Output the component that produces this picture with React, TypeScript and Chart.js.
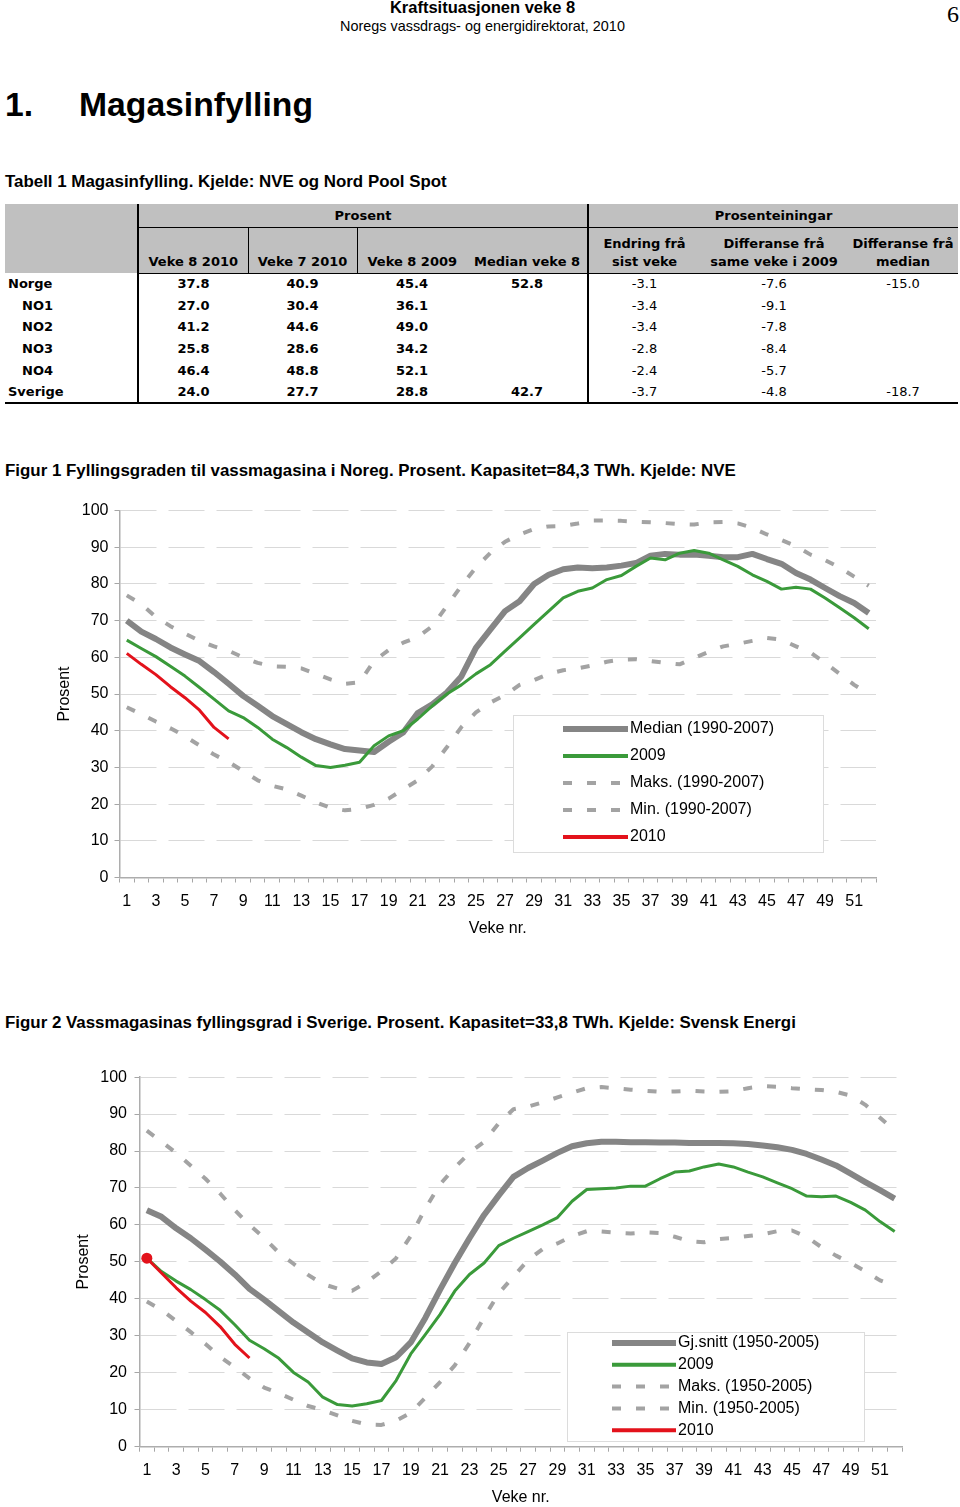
import React, { useEffect, useRef } from 'react';
import { Chart, registerables } from 'chart.js';

Chart.register(...registerables);

// ---------- categories ----------
const WEEKS = ['1','2','3','4','5','6','7','8','9','10','11','12','13','14','15','16','17','18','19','20','21','22','23','24','25','26','27','28','29','30','31','32','33','34','35','36','37','38','39','40','41','42','43','44','45','46','47','48','49','50','51','52'];

// ---------- Figur 1: Noreg ----------
const NOR_LABELS = ['Median (1990-2007)', '2009', 'Maks. (1990-2007)', 'Min. (1990-2007)', '2010'];
const NOR_MEDIAN = [70,67,65,62.7,60.8,59,56,52.8,49.5,46.8,44,41.8,39.6,37.7,36.3,35,34.6,34.2,37,39.5,44.8,47.2,50.4,54.8,62.6,67.6,72.6,75.3,80,82.5,84,84.5,84.3,84.5,85,85.7,87.7,88.2,88,88,87.7,87.3,87.3,88.2,86.8,85.5,83,81.2,78.9,76.7,74.8,72.1];
const NOR_2009 = [64.7,62.4,60.2,57.6,54.9,51.8,48.6,45.4,43.6,40.9,37.7,35.4,32.8,30.5,30,30.6,31.4,35.9,38.6,40,43.2,46.8,50,52.5,55.5,58,61.7,65.3,69,72.6,76.2,78,78.9,81.2,82.3,84.8,87.1,86.6,88.4,89.1,88.4,86.6,84.8,82.5,80.7,78.6,79.1,78.6,76.2,73.5,70.8,67.8];
const NOR_MAX = [76.9,74.5,71,68.5,66.5,64.5,63,61.8,60,58.5,57.6,57.4,57,55.5,54,52.8,53.2,59,62,64,65.5,68.5,74,79.5,84.5,88.5,91.5,93.5,95,95.7,95.8,96.5,97.3,97.3,97.2,97,96.8,96.6,96.3,96.2,96.8,96.9,96.5,95.3,93.5,92,90.3,88,86.5,84.5,82,79.5];
const NOR_MIN = [46.4,44.5,42.5,40.7,38.5,36,33.5,31.5,29,26.5,25,24,22.3,20.5,19,18.3,18.7,19.8,21.5,24,26.5,30.3,35.5,41,45,47.7,49.7,52.5,53.8,55.5,56.5,57,57.8,58.8,59.4,59.5,59,58.5,58.1,59.8,61.5,63,63.7,64.5,65.3,64.8,63,61.3,58.5,55.5,52.5,50];
const NOR_2010 = [61.1,58.1,55.3,52,49,45.6,40.9,37.8];

// ---------- Figur 2: Sverige ----------
const SWE_LABELS = ['Gj.snitt (1950-2005)', '2009', 'Maks. (1950-2005)', 'Min. (1950-2005)', '2010'];
const SWE_AVG = [64,62.2,59.1,56.4,53.3,50.1,46.6,42.7,39.8,36.7,33.6,30.9,28.2,26,23.9,22.8,22.4,24.2,28.2,34.9,42.5,49.7,56.4,62.7,68,73,75.4,77.4,79.5,81.3,82.1,82.5,82.5,82.4,82.4,82.3,82.3,82.2,82.2,82.2,82.1,81.9,81.5,81,80.3,79.2,77.7,76.1,73.9,71.6,69.4,67.1];
const SWE_2009 = [51,47.4,44.8,42.5,39.8,36.9,33,28.8,26.5,23.9,20.1,17.5,13.4,11.4,11,11.6,12.5,17.9,25.1,30.4,35.8,42.1,46.6,49.7,54.4,56.4,58.2,60,62,66.4,69.6,69.8,70,70.5,70.5,72.5,74.3,74.6,75.7,76.5,75.7,74.3,73,71.4,69.8,67.8,67.6,67.8,66.1,64,60.9,58.2];
const SWE_MAX = [85.5,82.5,79.5,76,72.5,68.5,64,60,56.5,52.5,49.5,46.5,44,42.8,42.2,44.5,47.5,51,57,64.5,71,75.5,79.5,82.5,87.5,91.3,92,93.2,94.5,95.8,97,97.3,97,96.6,96.3,96,96.1,96.3,96.1,96,96.2,97,97.6,97.4,97,96.7,96.5,96,95,92.5,89,85.5];
const SWE_MIN = [39.3,37,34,31,27.8,24.3,21.5,18.5,16,14.5,12.7,11,9.9,8.5,7,6,5.9,7,9.2,13.3,17.5,22,28,35,41.5,46,50.5,53.5,55,57,58.3,58.2,57.9,57.7,58,57.8,56.8,55.6,55.3,56.2,56.5,57,57.5,58.3,58.5,56.8,54,51.7,49.7,47.5,45,43.5];
const SWE_2010 = [51,47,43,39.4,36.3,32.5,27.7,24.0];

// ---------- Tabell 1 ----------
const TBL_REGIONS = ['Norge', 'NO1', 'NO2', 'NO3', 'NO4', 'Sverige'];
const TBL_INDENT = [false, true, true, true, true, false];
const TBL_V8_2010 = [37.8, 27.0, 41.2, 25.8, 46.4, 24.0];
const TBL_V7_2010 = [40.9, 30.4, 44.6, 28.6, 48.8, 27.7];
const TBL_V8_2009 = [45.4, 36.1, 49.0, 34.2, 52.1, 28.8];
const TBL_MEDIAN_V8 = [52.8, null, null, null, null, 42.7];
const TBL_CHANGE = [-3.1, -3.4, -3.4, -2.8, -2.4, -3.7];
const TBL_DIFF_2009 = [-7.6, -9.1, -7.8, -8.4, -5.7, -4.8];
const TBL_DIFF_MEDIAN = [-15.0, null, null, null, null, -18.7];

// ---------- styles ----------
const SERIES_STYLE = [
  { color: '#858585', width: 6, legendWidth: 6, dash: [] as number[], order: 2 },
  { color: '#3a9a3a', width: 3, legendWidth: 4, dash: [] as number[], order: 1 },
  { color: '#a3a3a3', width: 4, legendWidth: 4, dash: [9, 15], order: 3 },
  { color: '#a3a3a3', width: 4, legendWidth: 4, dash: [9, 15], order: 4 },
  { color: '#e3121b', width: 3, legendWidth: 4, dash: [] as number[], order: 0 },
];

const SANS = '"Liberation Sans", Arial, Helvetica, sans-serif';

const boxLegend = {
  id: 'boxLegend',
  afterDatasetsDraw(chart: any, _args: any, opts: any) {
    const ctx = chart.ctx as CanvasRenderingContext2D;
    ctx.save();
    ctx.fillStyle = '#ffffff';
    ctx.fillRect(opts.x, opts.y, opts.w, opts.h);
    ctx.strokeStyle = '#dcdcdc';
    ctx.lineWidth = 1;
    ctx.strokeRect(opts.x + 0.5, opts.y + 0.5, opts.w, opts.h);
    chart.data.datasets.forEach((ds: any, i: number) => {
      const cy = opts.rowY + i * opts.rowGap;
      ctx.save();
      ctx.strokeStyle = ds.borderColor;
      ctx.lineWidth = ds.legendLineWidth;
      ctx.setLineDash(ds.borderDash || []);
      ctx.lineCap = 'butt';
      ctx.beginPath();
      ctx.moveTo(opts.sampleX, cy);
      ctx.lineTo(opts.sampleX + opts.sampleW, cy);
      ctx.stroke();
      ctx.restore();
      ctx.fillStyle = '#000';
      ctx.font = '16px ' + SANS;
      ctx.textBaseline = 'middle';
      ctx.textAlign = 'left';
      ctx.fillText(ds.label, opts.textX, cy);
    });
    ctx.restore();
  },
};

type LegendBox = { x: number; y: number; w: number; h: number; sampleX: number; sampleW: number; textX: number; rowY: number; rowGap: number };

type WeekChartProps = {
  top: number;
  height: number;
  pad: { left: number; right: number; top: number };
  yWidth: number;
  xHeight: number;
  yTickPad: number;
  labels: string[];
  series: number[][];
  legend: LegendBox;
  dotFirst2010: boolean;
};

function WeekChart(p: WeekChartProps) {
  const ref = useRef<HTMLCanvasElement>(null);
  useEffect(() => {
    if (!ref.current) return;
    const datasets = p.series.map((data, i) => {
      const st = SERIES_STYLE[i];
      const isLast = i === 4;
      return {
        label: p.labels[i],
        data,
        borderColor: st.color,
        backgroundColor: st.color,
        borderWidth: st.width,
        borderDash: st.dash,
        borderCapStyle: 'butt' as const,
        borderJoinStyle: 'round' as const,
        legendLineWidth: st.legendWidth,
        tension: 0,
        fill: false,
        order: st.order,
        pointRadius: isLast && p.dotFirst2010 ? (c: any) => (c.dataIndex === 0 ? 5.5 : 0) : 0,
        pointBorderWidth: 0,
        pointBackgroundColor: st.color,
        pointHoverRadius: 0,
      };
    });
    const chart = new Chart(ref.current, {
      type: 'line',
      data: { labels: WEEKS, datasets: datasets as any },
      options: {
        animation: false,
        responsive: false,
        maintainAspectRatio: false,
        events: [],
        layout: { padding: { left: p.pad.left, right: p.pad.right, top: p.pad.top, bottom: 0 } },
        plugins: {
          legend: { display: false },
          tooltip: { enabled: false },
          boxLegend: p.legend as any,
        } as any,
        scales: {
          x: {
            type: 'category',
            offset: true,
            afterFit: (s: any) => { s.height = p.xHeight; },
            grid: {
              display: true,
              offset: true,
              drawOnChartArea: false,
              drawTicks: true,
              tickLength: 5,
              color: '#a6a6a6',
              tickColor: '#a6a6a6',
            },
            border: { display: true, color: '#adadad', width: 1.5 },
            ticks: {
              autoSkip: false,
              maxRotation: 0,
              minRotation: 0,
              padding: 9,
              color: '#000',
              font: { family: SANS, size: 16 },
              callback: (_v: any, i: number) => (i % 2 === 0 ? WEEKS[i] : ''),
            },
            title: { display: true, text: 'Veke nr.', color: '#000', padding: 0, font: { family: SANS, size: 16 } },
          },
          y: {
            min: 0,
            max: 100,
            afterFit: (s: any) => { s.width = p.yWidth; },
            grid: {
              display: true,
              color: '#d9d9d9',
              lineWidth: 1,
              drawTicks: true,
              tickLength: 5,
              tickColor: '#a6a6a6',
              tickBorderDash: [],
            } as any,
            border: { display: true, color: '#adadad', width: 1.5, dash: [36, 12] },
            ticks: {
              stepSize: 10,
              padding: p.yTickPad,
              color: '#000',
              font: { family: SANS, size: 16 },
            },
            title: { display: true, text: 'Prosent', color: '#000', padding: 0, font: { family: SANS, size: 16 } },
          },
        },
      },
      plugins: [boxLegend as any],
    });
    return () => chart.destroy();
  }, []);
  return (
    <canvas
      ref={ref}
      width={960}
      height={p.height}
      style={{ position: 'absolute', left: 0, top: p.top, width: 960, height: p.height, display: 'block' }}
    />
  );
}

const GRAY = '#c0c0c0';
const TFONT = '"DejaVu Sans", Verdana, Tahoma, sans-serif';

function fmt(v: number | null) {
  return v === null ? '' : v.toFixed(1);
}

function DataTable() {
  const th: React.CSSProperties = { background: GRAY, fontWeight: 700, textAlign: 'center', padding: 0 };
  const sub: React.CSSProperties = { ...th, verticalAlign: 'bottom', paddingBottom: 2, lineHeight: '18px', borderBottom: '1px solid #000' };
  const td: React.CSSProperties = { textAlign: 'center', padding: 0, lineHeight: '16px' };
  const bold: React.CSSProperties = { ...td, fontWeight: 700 };
  const last = TBL_REGIONS.length - 1;
  return (
    <table
      style={{
        position: 'absolute', left: 5, top: 204, width: 953, borderCollapse: 'collapse', tableLayout: 'fixed',
        fontFamily: TFONT, fontSize: 13, color: '#000',
      }}
    >
      <colgroup>
        <col style={{ width: 133 }} />
        <col style={{ width: 110 }} />
        <col style={{ width: 109 }} />
        <col style={{ width: 110 }} />
        <col style={{ width: 121 }} />
        <col style={{ width: 112 }} />
        <col style={{ width: 148 }} />
        <col style={{ width: 110 }} />
      </colgroup>
      <tbody>
        <tr style={{ height: 23 }}>
          <td rowSpan={2} style={{ background: GRAY, padding: 0 }} />
          <td colSpan={4} style={{ ...th, borderLeft: '2px solid #000', borderBottom: '1px solid #000' }}>Prosent</td>
          <td colSpan={3} style={{ ...th, borderLeft: '2px solid #000', borderBottom: '1px solid #000' }}>Prosenteiningar</td>
        </tr>
        <tr style={{ height: 46 }}>
          <td style={{ ...sub, borderLeft: '2px solid #000', borderRight: '1px solid #000' }}>Veke 8 2010</td>
          <td style={{ ...sub, borderRight: '1px solid #000' }}>Veke 7 2010</td>
          <td style={sub}>Veke 8 2009</td>
          <td style={sub}>Median veke 8</td>
          <td style={{ ...sub, borderLeft: '2px solid #000' }}>Endring frå<br />sist veke</td>
          <td style={sub}>Differanse frå<br />same veke i 2009</td>
          <td style={sub}>Differanse frå<br />median</td>
        </tr>
        {TBL_REGIONS.map((r, i) => {
          const bb: React.CSSProperties = i === last ? { borderBottom: '2px solid #000' } : {};
          return (
            <tr key={r} style={{ height: 21.7 }}>
              <td style={{ ...bold, ...bb, textAlign: 'left', paddingLeft: TBL_INDENT[i] ? 17 : 3 }}>{r}</td>
              <td style={{ ...bold, ...bb, borderLeft: '2px solid #000' }}>{fmt(TBL_V8_2010[i])}</td>
              <td style={{ ...bold, ...bb }}>{fmt(TBL_V7_2010[i])}</td>
              <td style={{ ...bold, ...bb }}>{fmt(TBL_V8_2009[i])}</td>
              <td style={{ ...bold, ...bb }}>{fmt(TBL_MEDIAN_V8[i])}</td>
              <td style={{ ...td, ...bb, borderLeft: '2px solid #000' }}>{fmt(TBL_CHANGE[i])}</td>
              <td style={{ ...td, ...bb }}>{fmt(TBL_DIFF_2009[i])}</td>
              <td style={{ ...td, ...bb }}>{fmt(TBL_DIFF_MEDIAN[i])}</td>
            </tr>
          );
        })}
      </tbody>
    </table>
  );
}

export default function App() {
  const abs = (left: number, top: number, extra: React.CSSProperties = {}): React.CSSProperties => ({
    position: 'absolute', left, top, whiteSpace: 'nowrap', ...extra,
  });
  return (
    <div style={{ position: 'absolute', left: 0, top: 0, width: 960, height: 1507, overflow: 'hidden', background: '#fff', fontFamily: SANS, color: '#000' }}>
      <div style={abs(0, -3, { width: 965, textAlign: 'center', fontWeight: 700, fontSize: 16.5, lineHeight: '20px' })}>Kraftsituasjonen veke 8</div>
      <div style={abs(0, 17, { width: 965, textAlign: 'center', fontSize: 14.4, lineHeight: '18px' })}>Noregs vassdrags- og energidirektorat, 2010</div>
      <div style={abs(947, 0, { fontFamily: '"Liberation Serif", "DejaVu Serif", serif', fontSize: 24, lineHeight: '28px' })}>6</div>

      <div style={abs(5, 85, { fontWeight: 700, fontSize: 33.7, lineHeight: '38px' })}>1.</div>
      <div style={abs(79, 85, { fontWeight: 700, fontSize: 33.7, lineHeight: '38px' })}>Magasinfylling</div>

      <div style={abs(5, 172, { fontWeight: 700, fontSize: 16.9, lineHeight: '20px' })}>Tabell 1 Magasinfylling. Kjelde: NVE og Nord Pool Spot</div>
      <DataTable />

      <div style={abs(5, 461, { fontWeight: 700, fontSize: 16.9, lineHeight: '20px' })}>Figur 1 Fyllingsgraden til vassmagasina i Noreg. Prosent. Kapasitet=84,3 TWh. Kjelde: NVE</div>
      <WeekChart
        top={495}
        height={443}
        pad={{ left: 55, right: 84, top: 14 }}
        yWidth={64.5}
        xHeight={60.5}
        yTickPad={6}
        labels={NOR_LABELS}
        series={[NOR_MEDIAN, NOR_2009, NOR_MAX, NOR_MIN, NOR_2010]}
        legend={{ x: 513, y: 220, w: 310, h: 137, sampleX: 563, sampleW: 65, textX: 630, rowY: 234, rowGap: 27 }}
        dotFirst2010={false}
      />

      <div style={abs(5, 1013, { fontWeight: 700, fontSize: 16.9, lineHeight: '20px' })}>Figur 2 Vassmagasinas fyllingsgrad i Sverige. Prosent. Kapasitet=33,8 TWh. Kjelde: Svensk Energi</div>
      <WeekChart
        top={1060}
        height={447}
        pad={{ left: 73.5, right: 58, top: 14.3 }}
        yWidth={66}
        xHeight={60.3}
        yTickPad={7.5}
        labels={SWE_LABELS}
        series={[SWE_AVG, SWE_2009, SWE_MAX, SWE_MIN, SWE_2010]}
        legend={{ x: 567, y: 272, w: 297, h: 109, sampleX: 612, sampleW: 64, textX: 678, rowY: 283, rowGap: 21.8 }}
        dotFirst2010={true}
      />
    </div>
  );
}
